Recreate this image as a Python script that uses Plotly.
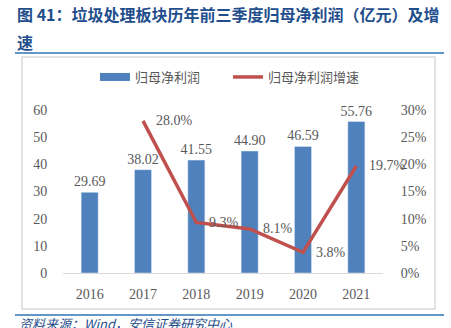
import plotly.graph_objects as go

years = [2016, 2017, 2018, 2019, 2020, 2021]
profit = [29.69, 38.02, 41.55, 44.90, 46.59, 55.76]
growth = [None, 28.0, 9.3, 8.1, 3.8, 19.7]
left_ticks = [0, 10, 20, 30, 40, 50, 60]
right_ticks = [0, 5, 10, 15, 20, 25, 30]

W, H = 451, 328
L, R, T, B = 63, 68, 110, 55
pw, ph = W - L - R, H - T - B

def px(x):
    return (x - L) / pw

def py(y):
    return (H - B - y) / ph

BLUE = "#4F81BD"
RED = "#C0504D"
GRAY = "#595959"
TITLE = "#1F4E8C"
serif = "Liberation Serif, Times New Roman, serif"
cjk = "Noto Sans CJK SC"

fig = go.Figure()
fig.add_trace(go.Bar(
    x=years, y=profit, marker_color=BLUE, width=0.32, showlegend=False,
    text=[f"{v:.2f}" for v in profit], textposition="outside", constraintext="none",
    textfont=dict(family=serif, size=14, color=GRAY), cliponaxis=False,
))
fig.add_trace(go.Scatter(
    x=[years[0]], y=[None], mode="lines", line=dict(color=BLUE, width=8),
    name="归母净利润",
))
gx = [x for x, g in zip(years, growth) if g is not None]
gy = [g for g in growth if g is not None]
fig.add_trace(go.Scatter(
    x=gx, y=gy, yaxis="y2", mode="lines", line=dict(color=RED, width=3.5),
    name="归母净利润增速", cliponaxis=False,
))

annotations = []
for x, g in zip(gx, gy):
    annotations.append(dict(
        x=x, y=g, xref="x", yref="y2", text=f"{g:.1f}%", showarrow=False,
        xanchor="left", yanchor="middle", xshift=11,
        font=dict(family=serif, size=14, color=GRAY),
    ))

annotations.append(dict(
    x=px(15), y=py(14), xref="paper", yref="paper", xanchor="left", yanchor="middle",
    text="<b>图 41：垃圾处理板块历年前三季度归母净利润（亿元）及增</b>", showarrow=False,
    font=dict(family=cjk, size=16, color=TITLE),
))
annotations.append(dict(
    x=px(15), y=py(42), xref="paper", yref="paper", xanchor="left", yanchor="middle",
    text="<b>速</b>", showarrow=False,
    font=dict(family=cjk, size=16, color=TITLE),
))
annotations.append(dict(
    x=px(17), y=py(323), xref="paper", yref="paper", xanchor="left", yanchor="middle",
    text="<i>资料来源：Wind，安信证券研究中心</i>", showarrow=False,
    font=dict(family=cjk, size=13, color=TITLE),
))

shapes = [
    dict(type="line", xref="paper", yref="paper", x0=px(15), x1=px(444),
         y0=py(53), y1=py(53), line=dict(color="#2E74B5", width=1.5)),
    dict(type="rect", xref="paper", yref="paper", x0=px(22), x1=px(435),
         y0=py(57), y1=py(309), line=dict(color="#D9D9D9", width=1.5)),
    dict(type="line", xref="paper", yref="paper", x0=px(15), x1=px(444),
         y0=py(315), y1=py(315), line=dict(color="#2E74B5", width=1.5)),
]

fig.update_layout(
    width=W, height=H, margin=dict(l=L, r=R, t=T, b=B),
    paper_bgcolor="white", plot_bgcolor="white",
    xaxis=dict(range=[years[0] - 0.5, years[-1] + 0.5], tickvals=years,
               ticktext=[str(y) for y in years],
               showgrid=False, showline=True, linecolor="#D9D9D9", linewidth=1, zeroline=False,
               ticks="outside", ticklen=8, tickcolor="rgba(0,0,0,0)",
               tickfont=dict(family=serif, size=14, color=GRAY)),
    yaxis=dict(range=[0, 60], tickvals=left_ticks, showgrid=False, zeroline=False,
               ticks="outside", ticklen=12, tickcolor="rgba(0,0,0,0)",
               tickfont=dict(family=serif, size=14, color=GRAY)),
    yaxis2=dict(range=[0, 30], tickvals=right_ticks, ticktext=[f"{t}%" for t in right_ticks],
                overlaying="y", side="right", showgrid=False, zeroline=False,
                ticks="outside", ticklen=14, tickcolor="rgba(0,0,0,0)",
                tickfont=dict(family=serif, size=14, color=GRAY)),
    legend=dict(orientation="h", x=px(95), y=py(77), xanchor="left", yanchor="middle",
                font=dict(family=cjk, size=13, color=GRAY), bgcolor="rgba(0,0,0,0)",
                itemwidth=30, tracegroupgap=0, entrywidth=88, entrywidthmode="pixels"),
    annotations=annotations, shapes=shapes,
)

fig.write_html("out.html")
